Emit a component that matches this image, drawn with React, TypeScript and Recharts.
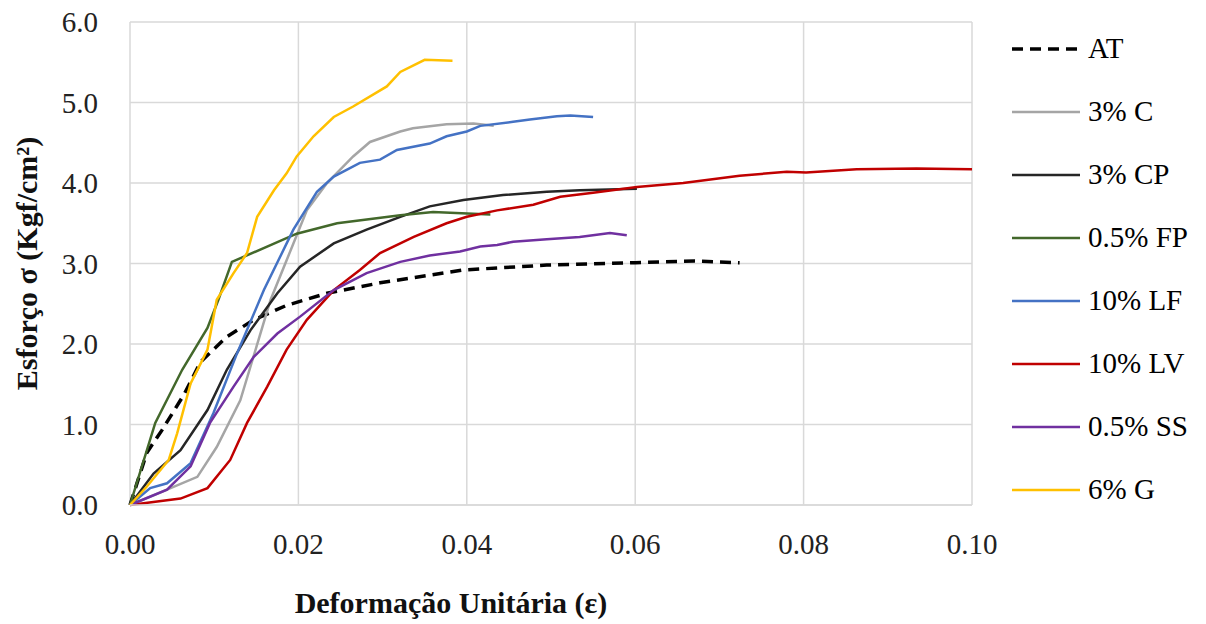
import React from 'react'
import {
  LineChart,
  Line,
  XAxis,
  YAxis,
  CartesianGrid,
} from 'recharts'

// strain (x) / stress (y) pairs, one pair of arrays per mix
const atX = [0, 0.002, 0.0038, 0.0064, 0.0084, 0.0115, 0.0147, 0.0186, 0.0234, 0.0297, 0.0396, 0.0495, 0.0600, 0.0670, 0.0724]
const atY = [0, 0.65, 0.93, 1.37, 1.78, 2.09, 2.3, 2.48, 2.63, 2.76, 2.92, 2.98, 3.01, 3.03, 3.01]

const cX = [0, 0.0044, 0.008, 0.0103, 0.0131, 0.0167, 0.0186, 0.021, 0.0234, 0.0265, 0.0285, 0.0321, 0.0336, 0.0376, 0.0408, 0.0432]
const cY = [0, 0.19, 0.35, 0.72, 1.3, 2.55, 3.04, 3.66, 4.0, 4.33, 4.51, 4.64, 4.68, 4.73, 4.74, 4.71]

const cpX = [0, 0.0028, 0.006, 0.0092, 0.0115, 0.0143, 0.0175, 0.0202, 0.0242, 0.0281, 0.0321, 0.0356, 0.0396, 0.0443, 0.0495, 0.0534, 0.0602]
const cpY = [0, 0.39, 0.68, 1.18, 1.68, 2.17, 2.63, 2.96, 3.25, 3.42, 3.58, 3.71, 3.79, 3.85, 3.89, 3.91, 3.93]

const fpX = [0, 0.003, 0.0062, 0.0092, 0.0105, 0.0121, 0.0198, 0.0246, 0.0321, 0.0360, 0.0428]
const fpY = [0, 1.02, 1.68, 2.2, 2.55, 3.02, 3.37, 3.5, 3.6, 3.64, 3.61]

const lfX = [0, 0.0024, 0.0044, 0.0072, 0.0099, 0.0127, 0.0159, 0.0194, 0.0222, 0.0242, 0.0273, 0.0297, 0.0317, 0.0356, 0.0376, 0.04, 0.0416, 0.0455, 0.0475, 0.0507, 0.0523, 0.055]
const lfY = [0, 0.21, 0.27, 0.52, 1.14, 1.88, 2.67, 3.42, 3.89, 4.08, 4.25, 4.29, 4.41, 4.49, 4.58, 4.64, 4.71, 4.76, 4.79, 4.83, 4.84, 4.82]

const lvX = [0, 0.006, 0.0092, 0.0119, 0.0139, 0.0163, 0.0186, 0.021, 0.0242, 0.0273, 0.0297, 0.0337, 0.0376, 0.04, 0.0436, 0.0479, 0.0511, 0.055, 0.0602, 0.0657, 0.0724, 0.078, 0.0803, 0.0863, 0.0934, 0.1]
const lvY = [0, 0.08, 0.21, 0.56, 1.02, 1.47, 1.93, 2.3, 2.67, 2.92, 3.13, 3.33, 3.5, 3.58, 3.66, 3.73, 3.83, 3.88, 3.95, 4.0, 4.09, 4.14, 4.13, 4.17, 4.18, 4.17]

const ssX = [0, 0.0044, 0.0072, 0.0095, 0.0123, 0.0147, 0.0175, 0.0202, 0.0242, 0.0281, 0.0321, 0.0356, 0.0392, 0.0416, 0.0436, 0.0455, 0.0495, 0.0534, 0.057, 0.059]
const ssY = [0, 0.19, 0.48, 1.02, 1.47, 1.84, 2.13, 2.34, 2.67, 2.88, 3.02, 3.1, 3.15, 3.21, 3.23, 3.27, 3.3, 3.33, 3.38, 3.35]

const gX = [0, 0.002, 0.0046, 0.0056, 0.0072, 0.0084, 0.0092, 0.0103, 0.0123, 0.0139, 0.0151, 0.0171, 0.0186, 0.0198, 0.0218, 0.0242, 0.0265, 0.0305, 0.0321, 0.035, 0.0383]
const gY = [0, 0.23, 0.56, 0.89, 1.51, 1.76, 1.93, 2.55, 2.88, 3.13, 3.58, 3.91, 4.12, 4.33, 4.58, 4.82, 4.95, 5.2, 5.38, 5.53, 5.52]

const xTicks = [0, 0.02, 0.04, 0.06, 0.08, 0.1]
const yTicks = [0, 1, 2, 3, 4, 5, 6]

const FONT = '"Liberation Serif", "Times New Roman", serif'

const toPoints = (xs: number[], ys: number[]) => xs.map((x, i) => ({ x, y: ys[i] }))

const series = [
  { name: 'AT', data: toPoints(atX, atY), color: '#000000', dash: '11 7', width: 3.5 },
  { name: '3% C', data: toPoints(cX, cY), color: '#a5a5a5' },
  { name: '3% CP', data: toPoints(cpX, cpY), color: '#262626' },
  { name: '0.5% FP', data: toPoints(fpX, fpY), color: '#43682b' },
  { name: '10% LF', data: toPoints(lfX, lfY), color: '#4472c4' },
  { name: '10% LV', data: toPoints(lvX, lvY), color: '#c00000' },
  { name: '0.5% SS', data: toPoints(ssX, ssY), color: '#7030a0' },
  { name: '6% G', data: toPoints(gX, gY), color: '#ffc000' },
]

// legend drawn beside the plot, Excel style
function LegendBox() {
  return (
    <div style={{ position: 'absolute', left: 1012, top: 17, fontFamily: FONT, fontSize: 29, color: '#000' }}>
      {series.map((s) => (
        <div key={s.name} style={{ display: 'flex', alignItems: 'center', height: 63 }}>
          <svg width={70} height={10} style={{ marginRight: 6 }}>
            <line
              x1={0}
              y1={5}
              x2={68}
              y2={5}
              stroke={s.color}
              strokeWidth={s.width ?? 2.5}
              strokeDasharray={s.dash}
            />
          </svg>
          <span>{s.name}</span>
        </div>
      ))}
    </div>
  )
}

export default function App() {
  return (
    <div style={{ position: 'absolute', left: 0, top: 0, width: 1206, height: 624, background: '#fff' }}>
      <LineChart width={1206} height={624} margin={{ top: 22, right: 234, bottom: 59, left: 0 }}>
        <CartesianGrid stroke="#d9d9d9" strokeWidth={1.5} />
        <XAxis
          type="number"
          dataKey="x"
          domain={[0, 0.1]}
          ticks={xTicks}
          tickFormatter={(v: number) => v.toFixed(2)}
          height={60}
          axisLine={{ stroke: '#d9d9d9', strokeWidth: 1.5 }}
          tickLine={false}
          tickMargin={22}
          tick={{ fontFamily: FONT, fontSize: 29, fill: '#222' }}
          allowDuplicatedCategory={false}
          label={{
            value: 'Deformação Unitária (ε)',
            position: 'insideBottom',
            offset: -48,
            dx: -100,
            style: { fontFamily: FONT, fontSize: 30, fontWeight: 'bold', fill: '#111' },
          }}
        />
        <YAxis
          type="number"
          dataKey="y"
          domain={[0, 6]}
          ticks={yTicks}
          tickFormatter={(v: number) => v.toFixed(1)}
          width={130}
          axisLine={false}
          tickLine={false}
          tickMargin={26}
          tick={{ fontFamily: FONT, fontSize: 29, fill: '#222' }}
          label={{
            value: 'Esforço σ (Kgf/cm²)',
            angle: -90,
            position: 'insideLeft',
            offset: 26,
            style: { fontFamily: FONT, fontSize: 30, fontWeight: 'bold', fill: '#111', textAnchor: 'middle' },
          }}
        />
        {series.map((s) => (
          <Line
            key={s.name}
            name={s.name}
            data={s.data}
            dataKey="y"
            type="linear"
            stroke={s.color}
            strokeWidth={s.width ?? 2.5}
            strokeDasharray={s.dash}
            dot={false}
            activeDot={false}
            isAnimationActive={false}
          />
        ))}
      </LineChart>
      <LegendBox />
    </div>
  )
}
